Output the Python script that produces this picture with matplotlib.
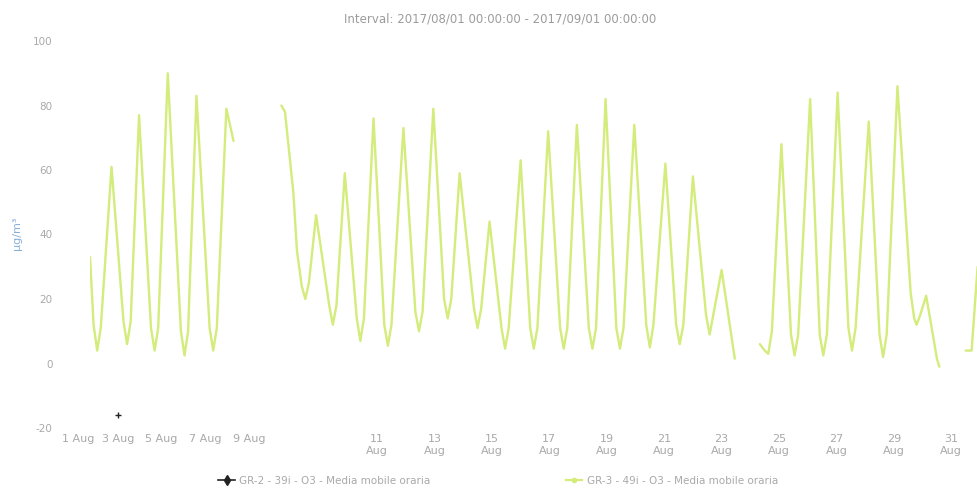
import matplotlib
matplotlib.use("Agg")
import matplotlib.pyplot as plt
import matplotlib.transforms as mtransforms
import numpy as np
import pandas as pd

# ---- data ----
title = "Interval: 2017/08/01 00:00:00 - 2017/09/01 00:00:00"
series_names = ["GR-2 - 39i - O3 - Media mobile oraria",
                "GR-3 - 49i - O3 - Media mobile oraria"]

gr3_times = [
    "08-01 00:00", "08-01 03:00", "08-01 06:00", "08-01 09:00", "08-01 18:00",
    "08-02 04:00", "08-02 07:00", "08-02 10:00", "08-02 17:00",
    "08-03 03:00", "08-03 06:00", "08-03 09:00", "08-03 17:00",
    "08-04 04:00", "08-04 07:00", "08-04 10:00", "08-04 17:00",
    "08-05 04:00", "08-05 07:00", "08-05 10:00", "08-05 18:00", "08-06 00:00",
    "08-06 12:00",
    "08-07 16:00", "08-07 19:00", "08-08 02:00", "08-08 05:00",
    "08-08 09:00", "08-08 12:00", "08-08 15:00", "08-08 21:00",
    "08-09 08:00", "08-09 11:00", "08-09 14:00", "08-09 21:00",
    "08-10 07:00", "08-10 10:00", "08-10 13:00", "08-10 21:00",
    "08-11 06:00", "08-11 09:00", "08-11 12:00", "08-11 22:00",
    "08-12 08:00", "08-12 11:00", "08-12 14:00", "08-12 23:00",
    "08-13 08:00", "08-13 11:00", "08-13 14:00", "08-13 21:00",
    "08-14 09:00", "08-14 12:00", "08-14 15:00", "08-14 22:00",
    "08-15 08:00", "08-15 11:00", "08-15 14:00", "08-16 00:00",
    "08-16 08:00", "08-16 11:00", "08-16 14:00", "08-16 23:00",
    "08-17 09:00", "08-17 12:00", "08-17 15:00", "08-17 23:00",
    "08-18 09:00", "08-18 12:00", "08-18 15:00", "08-18 23:00",
    "08-19 08:00", "08-19 11:00", "08-19 14:00", "08-19 23:00",
    "08-20 09:00", "08-20 12:00", "08-20 15:00", "08-21 01:00",
    "08-21 10:00", "08-21 13:00", "08-21 16:00", "08-22 00:00",
    "08-22 11:00", "08-22 14:00", "08-22 17:00", "08-23 00:00", "08-23 11:00",
    "08-23 20:00",
    "08-24 08:00", "08-24 12:00", "08-24 15:00", "08-24 18:00", "08-25 02:00",
    "08-25 10:00", "08-25 13:00", "08-25 16:00", "08-26 02:00",
    "08-26 10:00", "08-26 13:00", "08-26 16:00", "08-27 01:00",
    "08-27 10:00", "08-27 13:00", "08-27 16:00", "08-28 03:00",
    "08-28 12:00", "08-28 15:00", "08-28 18:00", "08-29 03:00",
    "08-29 14:00", "08-29 17:00", "08-29 19:00", "08-29 22:00", "08-30 03:00",
    "08-30 12:00", "08-30 14:00",
    "08-30 20:00",
    "08-31 12:00", "08-31 17:00", "08-31 22:00",
]
gr3_values = [
    33, 12, 4, 11, 61,
    13, 6, 13, 77,
    11, 4, 11, 90,
    10, 2.5, 10, 83,
    11, 4, 11, 79, 69,
    None,
    80, 78, 53, 35,
    24, 20, 25, 46,
    18, 12, 18, 59,
    14, 7, 14, 76,
    12, 5.5, 12, 73,
    16, 10, 16, 79,
    20, 14, 20, 59,
    17, 11, 17, 44,
    11, 4.6, 11, 63,
    11, 4.6, 11, 72,
    11, 4.6, 11, 74,
    11, 4.6, 11, 82,
    11, 4.6, 11, 74,
    12, 5, 12, 62,
    12, 6, 12, 58,
    15, 9, 15, 29, 1.5,
    None,
    6, 4, 3, 10, 68,
    9, 2.5, 9, 82,
    9, 2.5, 9, 84,
    11, 4, 11, 75,
    9, 2, 9, 86,
    22, 14, 12, 15, 21,
    1.5, -1,
    None,
    4, 4, 30,
]

gr2_times = ["08-01 23:00"]
gr2_values = [-16]

y_ticks = [-20, 0, 20, 40, 60, 80, 100]
x_tick_days = [1, 3, 5, 7, 9, 11, 13, 15, 17, 19, 21, 23, 25, 27, 29, 31]

# ---- figure ----
W, H = 977, 493
fig = plt.figure(figsize=(W / 100, H / 100), dpi=100)
ax = fig.add_axes([90 / W, 1 - 428 / H, 890 / W, (428 - 41) / H])

t3 = pd.to_datetime(["2017-" + t for t in gr3_times])
v3 = np.array([np.nan if v is None else v for v in gr3_values], dtype=float)
line_col = "#d3ec7c"
ax.plot(t3, v3, color=line_col, lw=1.7, solid_joinstyle="round",
        solid_capstyle="round")

t2 = pd.to_datetime(["2017-" + t for t in gr2_times])
ax.plot(t2, gr2_values, color="#222222", lw=1.2, marker="+", ms=4,
        linestyle="none")
# legend handles
h2, = ax.plot([], [], color="#222222", lw=1.2, marker="d", ms=5,
              label=series_names[0])
h3, = ax.plot([], [], color=line_col, lw=1.6, marker="o", ms=3,
              label=series_names[1])

ax.set_xlim(pd.Timestamp("2017-08-01"), pd.Timestamp("2017-09-01"))
ax.set_ylim(-20, 100)

for s in ax.spines.values():
    s.set_visible(False)

ax.set_yticks(y_ticks)
ax.set_yticklabels([str(v) for v in y_ticks])
ax.tick_params(axis="y", length=0, pad=27, labelsize=7.5, labelcolor="#a9a9a9")

xt = [pd.Timestamp(2017, 8, d) for d in x_tick_days]
ax.set_xticks(xt)
labels = [f"{d} Aug" if d < 10 else f"{d}\nAug" for d in x_tick_days]
ax.set_xticklabels(labels, linespacing=1.3)
ax.tick_params(axis="x", length=0, pad=4, labelsize=8, labelcolor="#a9a9a9")

# early labels are drawn compressed towards the left in the reference
offsets_px = [-12, -29, -44, -57, -70]
for lab, off in zip(ax.get_xticklabels()[:5], offsets_px):
    lab.set_transform(lab.get_transform() +
                      mtransforms.ScaledTranslation(off / 100, 0, fig.dpi_scale_trans))

fig.text(500 / W, 1 - 19 / H, title, ha="center", va="center",
         fontsize=8.5, color="#9c9c9c")
fig.text(17 / W, 1 - 233 / H, "µg/m³", rotation=90, ha="center", va="center",
         fontsize=8, color="#86b0d6")

leg = fig.legend(handles=[h2, h3], loc="center", ncol=2,
                 bbox_to_anchor=(498 / W, 1 - 481 / H), frameon=False,
                 fontsize=7.5, handlelength=1.6, handletextpad=0.4,
                 columnspacing=13)
for txt in leg.get_texts():
    txt.set_color("#a9a9a9")

fig.savefig("out.png", dpi=100)
